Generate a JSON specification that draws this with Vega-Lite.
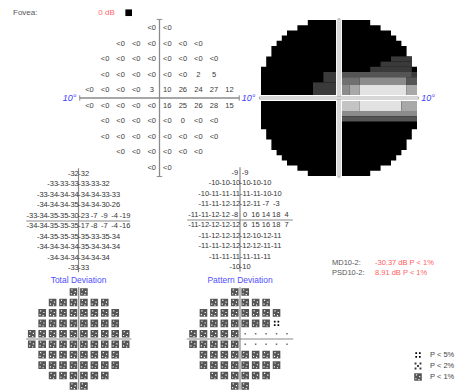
{
 "$schema": "https://vega.github.io/schema/vega-lite/v6.json",
 "padding": 0,
 "background": "white",
 "spacing": 0,
 "columns": 3,
 "align": "none",
 "bounds": "flush",
 "config": {
  "view": {"stroke": null},
  "axis": {"disable": true},
  "legend": {"disable": true},
  "concat": {"spacing": 0},
  "text": {"font": "Liberation Sans", "fontSize": 8, "color": "#3a3a3a"}
 },
 "datasets": {
  "field": [
   {"x":-1,"y":9,"sens":"<0","td":-32,"pd":-9,"tdp":"P < 1%","pdp":"P < 1%"},
   {"x":1,"y":9,"sens":"<0","td":-32,"pd":-9,"tdp":"P < 1%","pdp":"P < 1%"},
   {"x":-5,"y":7,"sens":"<0","td":-33,"pd":-10,"tdp":"P < 1%","pdp":"P < 1%"},
   {"x":-3,"y":7,"sens":"<0","td":-33,"pd":-10,"tdp":"P < 1%","pdp":"P < 1%"},
   {"x":-1,"y":7,"sens":"<0","td":-33,"pd":-10,"tdp":"P < 1%","pdp":"P < 1%"},
   {"x":1,"y":7,"sens":"<0","td":-33,"pd":-10,"tdp":"P < 1%","pdp":"P < 1%"},
   {"x":3,"y":7,"sens":"<0","td":-33,"pd":-10,"tdp":"P < 1%","pdp":"P < 1%"},
   {"x":5,"y":7,"sens":"<0","td":-32,"pd":-10,"tdp":"P < 1%","pdp":"P < 1%"},
   {"x":-7,"y":5,"sens":"<0","td":-33,"pd":-10,"tdp":"P < 1%","pdp":"P < 1%"},
   {"x":-5,"y":5,"sens":"<0","td":-34,"pd":-11,"tdp":"P < 1%","pdp":"P < 1%"},
   {"x":-3,"y":5,"sens":"<0","td":-34,"pd":-11,"tdp":"P < 1%","pdp":"P < 1%"},
   {"x":-1,"y":5,"sens":"<0","td":-34,"pd":-11,"tdp":"P < 1%","pdp":"P < 1%"},
   {"x":1,"y":5,"sens":"<0","td":-34,"pd":-11,"tdp":"P < 1%","pdp":"P < 1%"},
   {"x":3,"y":5,"sens":"<0","td":-34,"pd":-11,"tdp":"P < 1%","pdp":"P < 1%"},
   {"x":5,"y":5,"sens":"<0","td":-33,"pd":-10,"tdp":"P < 1%","pdp":"P < 1%"},
   {"x":7,"y":5,"sens":"<0","td":-33,"pd":-10,"tdp":"P < 1%","pdp":"P < 1%"},
   {"x":-7,"y":3,"sens":"<0","td":-34,"pd":-11,"tdp":"P < 1%","pdp":"P < 1%"},
   {"x":-5,"y":3,"sens":"<0","td":-34,"pd":-11,"tdp":"P < 1%","pdp":"P < 1%"},
   {"x":-3,"y":3,"sens":"<0","td":-34,"pd":-12,"tdp":"P < 1%","pdp":"P < 1%"},
   {"x":-1,"y":3,"sens":"<0","td":-35,"pd":-12,"tdp":"P < 1%","pdp":"P < 1%"},
   {"x":1,"y":3,"sens":"<0","td":-34,"pd":-12,"tdp":"P < 1%","pdp":"P < 1%"},
   {"x":3,"y":3,"sens":"<0","td":-34,"pd":-11,"tdp":"P < 1%","pdp":"P < 1%"},
   {"x":5,"y":3,"sens":"2","td":-30,"pd":-7,"tdp":"P < 1%","pdp":"P < 1%"},
   {"x":7,"y":3,"sens":"5","td":-26,"pd":-3,"tdp":"P < 1%","pdp":"P < 5%"},
   {"x":-9,"y":1,"sens":"<0","td":-33,"pd":-11,"tdp":"P < 1%","pdp":"P < 1%"},
   {"x":-7,"y":1,"sens":"<0","td":-34,"pd":-11,"tdp":"P < 1%","pdp":"P < 1%"},
   {"x":-5,"y":1,"sens":"<0","td":-35,"pd":-12,"tdp":"P < 1%","pdp":"P < 1%"},
   {"x":-3,"y":1,"sens":"<0","td":-35,"pd":-12,"tdp":"P < 1%","pdp":"P < 1%"},
   {"x":-1,"y":1,"sens":"3","td":-30,"pd":-8,"tdp":"P < 1%","pdp":"P < 1%"},
   {"x":1,"y":1,"sens":"10","td":-23,"pd":0,"tdp":"P < 1%","pdp":"n"},
   {"x":3,"y":1,"sens":"26","td":-7,"pd":16,"tdp":"P < 1%","pdp":"n"},
   {"x":5,"y":1,"sens":"24","td":-9,"pd":14,"tdp":"P < 1%","pdp":"n"},
   {"x":7,"y":1,"sens":"27","td":-4,"pd":18,"tdp":"P < 1%","pdp":"n"},
   {"x":9,"y":1,"sens":"12","td":-19,"pd":4,"tdp":"P < 1%","pdp":"n"},
   {"x":-9,"y":-1,"sens":"<0","td":-34,"pd":-11,"tdp":"P < 1%","pdp":"P < 1%"},
   {"x":-7,"y":-1,"sens":"<0","td":-34,"pd":-12,"tdp":"P < 1%","pdp":"P < 1%"},
   {"x":-5,"y":-1,"sens":"<0","td":-35,"pd":-12,"tdp":"P < 1%","pdp":"P < 1%"},
   {"x":-3,"y":-1,"sens":"<0","td":-35,"pd":-12,"tdp":"P < 1%","pdp":"P < 1%"},
   {"x":-1,"y":-1,"sens":"<0","td":-35,"pd":-12,"tdp":"P < 1%","pdp":"P < 1%"},
   {"x":1,"y":-1,"sens":"16","td":-17,"pd":6,"tdp":"P < 1%","pdp":"n"},
   {"x":3,"y":-1,"sens":"25","td":-8,"pd":15,"tdp":"P < 1%","pdp":"n"},
   {"x":5,"y":-1,"sens":"26","td":-7,"pd":16,"tdp":"P < 1%","pdp":"n"},
   {"x":7,"y":-1,"sens":"28","td":-4,"pd":18,"tdp":"P < 1%","pdp":"n"},
   {"x":9,"y":-1,"sens":"15","td":-16,"pd":7,"tdp":"P < 1%","pdp":"n"},
   {"x":-7,"y":-3,"sens":"<0","td":-34,"pd":-11,"tdp":"P < 1%","pdp":"P < 1%"},
   {"x":-5,"y":-3,"sens":"<0","td":-35,"pd":-12,"tdp":"P < 1%","pdp":"P < 1%"},
   {"x":-3,"y":-3,"sens":"<0","td":-35,"pd":-12,"tdp":"P < 1%","pdp":"P < 1%"},
   {"x":-1,"y":-3,"sens":"<0","td":-35,"pd":-12,"tdp":"P < 1%","pdp":"P < 1%"},
   {"x":1,"y":-3,"sens":"<0","td":-35,"pd":-12,"tdp":"P < 1%","pdp":"P < 1%"},
   {"x":3,"y":-3,"sens":"0","td":-33,"pd":-10,"tdp":"P < 1%","pdp":"P < 1%"},
   {"x":5,"y":-3,"sens":"<0","td":-35,"pd":-12,"tdp":"P < 1%","pdp":"P < 1%"},
   {"x":7,"y":-3,"sens":"<0","td":-34,"pd":-11,"tdp":"P < 1%","pdp":"P < 1%"},
   {"x":-7,"y":-5,"sens":"<0","td":-34,"pd":-11,"tdp":"P < 1%","pdp":"P < 1%"},
   {"x":-5,"y":-5,"sens":"<0","td":-34,"pd":-11,"tdp":"P < 1%","pdp":"P < 1%"},
   {"x":-3,"y":-5,"sens":"<0","td":-34,"pd":-12,"tdp":"P < 1%","pdp":"P < 1%"},
   {"x":-1,"y":-5,"sens":"<0","td":-34,"pd":-12,"tdp":"P < 1%","pdp":"P < 1%"},
   {"x":1,"y":-5,"sens":"<0","td":-35,"pd":-12,"tdp":"P < 1%","pdp":"P < 1%"},
   {"x":3,"y":-5,"sens":"<0","td":-34,"pd":-12,"tdp":"P < 1%","pdp":"P < 1%"},
   {"x":5,"y":-5,"sens":"<0","td":-34,"pd":-11,"tdp":"P < 1%","pdp":"P < 1%"},
   {"x":7,"y":-5,"sens":"<0","td":-34,"pd":-11,"tdp":"P < 1%","pdp":"P < 1%"},
   {"x":-5,"y":-7,"sens":"<0","td":-34,"pd":-11,"tdp":"P < 1%","pdp":"P < 1%"},
   {"x":-3,"y":-7,"sens":"<0","td":-34,"pd":-11,"tdp":"P < 1%","pdp":"P < 1%"},
   {"x":-1,"y":-7,"sens":"<0","td":-34,"pd":-11,"tdp":"P < 1%","pdp":"P < 1%"},
   {"x":1,"y":-7,"sens":"<0","td":-34,"pd":-11,"tdp":"P < 1%","pdp":"P < 1%"},
   {"x":3,"y":-7,"sens":"<0","td":-34,"pd":-11,"tdp":"P < 1%","pdp":"P < 1%"},
   {"x":5,"y":-7,"sens":"<0","td":-34,"pd":-11,"tdp":"P < 1%","pdp":"P < 1%"},
   {"x":-1,"y":-9,"sens":"<0","td":-33,"pd":-10,"tdp":"P < 1%","pdp":"P < 1%"},
   {"x":1,"y":-9,"sens":"<0","td":-33,"pd":-10,"tdp":"P < 1%","pdp":"P < 1%"}
  ],
  "gray": [
   {"x":-4,"x2":4,"y":-10,"y2":10,"level":"<1"},
   {"x":-5.333,"x2":5.333,"y":-9.333,"y2":9.333,"level":"<1"},
   {"x":-6.667,"x2":6.667,"y":-8.667,"y2":8.667,"level":"<1"},
   {"x":-7.333,"x2":7.333,"y":-8,"y2":8,"level":"<1"},
   {"x":-8,"x2":8,"y":-7.333,"y2":7.333,"level":"<1"},
   {"x":-8.667,"x2":8.667,"y":-6.667,"y2":6.667,"level":"<1"},
   {"x":-9.333,"x2":9.333,"y":-5.333,"y2":5.333,"level":"<1"},
   {"x":-10,"x2":10,"y":-4,"y2":4,"level":"<1"},
   {"x":-3.333,"x2":0,"y":0,"y2":2,"level":"1-5"},
   {"x":-2,"x2":0,"y":2,"y2":3.333,"level":"1-5"},
   {"x":4,"x2":9.333,"y":3.333,"y2":4,"level":"1-5"},
   {"x":5.333,"x2":9.333,"y":4,"y2":4.667,"level":"1-5"},
   {"x":6.667,"x2":9.333,"y":4.667,"y2":5.333,"level":"1-5"},
   {"x":0,"x2":9.333,"y":2.667,"y2":3.333,"level":"6-10"},
   {"x":9.333,"x2":10,"y":2.667,"y2":3.333,"level":"1-5"},
   {"x":0,"x2":2.667,"y":1.667,"y2":2.667,"level":"11-15"},
   {"x":2.667,"x2":8.667,"y":1.667,"y2":2.667,"level":"16-20"},
   {"x":8.667,"x2":10,"y":1.667,"y2":2.667,"level":"6-10"},
   {"x":0,"x2":1.333,"y":0,"y2":1.667,"level":"16-20"},
   {"x":1.333,"x2":2.667,"y":0,"y2":1.667,"level":"21-25"},
   {"x":2.667,"x2":8.667,"y":0,"y2":1.667,"level":"31+"},
   {"x":8.667,"x2":10,"y":0,"y2":1.667,"level":"21-25"},
   {"x":0,"x2":2.667,"y":-1.667,"y2":0,"level":"26-30"},
   {"x":2.667,"x2":8,"y":-1.667,"y2":0,"level":"31+"},
   {"x":8,"x2":10,"y":-1.667,"y2":0,"level":"21-25"},
   {"x":0,"x2":10,"y":-2.333,"y2":-1.667,"level":"16-20"},
   {"x":0,"x2":10,"y":-3,"y2":-2.333,"level":"6-10"}
  ],
  "stats": [
   {"stat":"MD10-2:","value":"-30.37 dB P < 1%"},
   {"stat":"PSD10-2:","value":"8.91 dB P < 1%"}
  ],
  "legend": [
   {"p":"P < 5%"},
   {"p":"P < 2%"},
   {"p":"P < 1%"}
  ]
 },
 "concat": [
   {"width": 160, "height": 165, "layer": [
    {"data":{"values":[{}]},"mark":{"type":"rule","color":"#8a8a8a","strokeWidth":1.3},
     "encoding":{"x":{"datum":-10.25,"type":"quantitative","scale":{"domain":[-20.501,0.0643],"nice":false,"zero":false},"axis":null},"x2":{"datum":10.25},
      "y":{"datum":0,"type":"quantitative","scale":{"domain":[-8.612,12.596],"nice":false,"zero":false},"axis":null}}},
    {"data":{"values":[{}]},"mark":{"type":"rule","color":"#8a8a8a","strokeWidth":1.3},
     "encoding":{"x":{"datum":0,"type":"quantitative"},"y":{"datum":-10.1,"type":"quantitative"},"y2":{"datum":10.1}}},
    {"data":{"values":[{}]},"mark":{"type":"rule","color":"#8a8a8a","strokeWidth":1},
     "encoding":{"x":{"datum":-10.25,"type":"quantitative"},"y":{"datum":-0.35,"type":"quantitative"},"y2":{"datum":0.35}}},
    {"data":{"values":[{}]},"mark":{"type":"rule","color":"#8a8a8a","strokeWidth":1},
     "encoding":{"x":{"datum":10.25,"type":"quantitative"},"y":{"datum":-0.35,"type":"quantitative"},"y2":{"datum":0.35}}},
    {"data":{"values":[{}]},"mark":{"type":"rule","color":"#8a8a8a","strokeWidth":1},
     "encoding":{"y":{"datum":10.1,"type":"quantitative"},"x":{"datum":-0.35,"type":"quantitative"},"x2":{"datum":0.35}}},
    {"data":{"values":[{}]},"mark":{"type":"rule","color":"#8a8a8a","strokeWidth":1},
     "encoding":{"y":{"datum":-10.1,"type":"quantitative"},"x":{"datum":-0.35,"type":"quantitative"},"x2":{"datum":0.35}}},
    {"data":{"name":"field"},"mark":{"type":"text","fontSize":7.5},
     "encoding":{"x":{"field":"x","type":"quantitative"},"y":{"field":"y","type":"quantitative"},"text":{"field":"sens","type":"nominal"}}},
    {"data":{"values":[{}]},"mark":{"type":"text","fontSize":9,"fontStyle":"italic","color":"#4040ff"},
     "encoding":{"x":{"datum":-11.57,"type":"quantitative"},"y":{"datum":0.05,"type":"quantitative"},"text":{"value":"10°"}}},
    {"data":{"values":[{}]},"mark":{"type":"text","align":"left","fontSize":8,"color":"#555555"},
     "encoding":{"x":{"datum":-18.83,"type":"quantitative"},"y":{"datum":10.96,"type":"quantitative"},"text":{"value":"Fovea:"}}},
    {"data":{"values":[{}]},"mark":{"type":"text","fontSize":8,"color":"#ff6a6a"},
     "encoding":{"x":{"datum":-6.81,"type":"quantitative"},"y":{"datum":10.96,"type":"quantitative"},"text":{"value":"0 dB"}}},
    {"data":{"values":[{}]},"mark":{"type":"point","shape":"square","filled":true,"color":"black","opacity":1,"size":44},
     "encoding":{"x":{"datum":-3.96,"type":"quantitative"},"y":{"datum":10.96,"type":"quantitative"}}}
   ]},
   {"width": 160, "height": 165, "layer": [
    {"data":{"name":"gray"},"mark":{"type":"rect"},
     "encoding":{"x":{"field":"x","type":"quantitative","scale":{"domain":[-22.949,-2.436],"nice":false,"zero":false},"axis":null},"x2":{"field":"x2"},
      "y":{"field":"y","type":"quantitative","scale":{"domain":[-8.59,12.564],"nice":false,"zero":false},"axis":null},"y2":{"field":"y2"},
      "color":{"field":"level","type":"nominal","legend":null,"scale":{"domain":["<1","1-5","6-10","11-15","16-20","21-25","26-30","31+"],"range":["#000000","#3a3a3a","#555555","#707070","#8c8c8c","#a8a8a8","#c4c4c4","#e2e2e2"]}}}},
    {"data":{"values":[{}]},"mark":{"type":"rect","color":"white"},
     "encoding":{"x":{"datum":-0.38,"type":"quantitative"},"x2":{"datum":0.38},"y":{"datum":-10.15,"type":"quantitative"},"y2":{"datum":10.15}}},
    {"data":{"values":[{}]},"mark":{"type":"rect","color":"white"},
     "encoding":{"x":{"datum":-10.2,"type":"quantitative"},"x2":{"datum":10.2},"y":{"datum":-0.38,"type":"quantitative"},"y2":{"datum":0.38}}},
    {"data":{"values":[{}]},"mark":{"type":"rect","fill":"white","stroke":"#999999","strokeWidth":0.8},
     "encoding":{"x":{"datum":-0.13,"type":"quantitative"},"x2":{"datum":0.13},"y":{"datum":-10.15,"type":"quantitative"},"y2":{"datum":10.15}}},
    {"data":{"values":[{}]},"mark":{"type":"rect","fill":"white","stroke":"#999999","strokeWidth":0.8},
     "encoding":{"x":{"datum":-10.2,"type":"quantitative"},"x2":{"datum":10.2},"y":{"datum":-0.13,"type":"quantitative"},"y2":{"datum":0.13}}},
    {"data":{"values":[{}]},"mark":{"type":"text","fontSize":9,"fontStyle":"italic","color":"#4040ff"},
     "encoding":{"x":{"datum":-11.6,"type":"quantitative"},"y":{"datum":0.05,"type":"quantitative"},"text":{"value":"10°"}}},
    {"data":{"values":[{}]},"mark":{"type":"text","fontSize":9,"fontStyle":"italic","color":"#4040ff"},
     "encoding":{"x":{"datum":11.41,"type":"quantitative"},"y":{"datum":0.05,"type":"quantitative"},"text":{"value":"10°"}}}
   ]},
   {"width": 136, "height": 165, "data": {"values": [{}]}, "mark": {"type": "text"}, "encoding": {"text": {"value": ""}}},
   {"width": 160, "height": 122, "layer": [
    {"data":{"values":[{}]},"mark":{"type":"rule","color":"#8a8a8a","strokeWidth":1.2},
     "encoding":{"x":{"datum":-10.1,"type":"quantitative","scale":{"domain":[-15.184,15.764],"nice":false,"zero":false},"axis":null},"x2":{"datum":10},
      "y":{"datum":0,"type":"quantitative","scale":{"domain":[-12.644,10.728],"nice":false,"zero":false},"axis":null}}},
    {"data":{"values":[{}]},"mark":{"type":"rule","color":"#8a8a8a","strokeWidth":1.2},
     "encoding":{"x":{"datum":0,"type":"quantitative"},"y":{"datum":-9.8,"type":"quantitative"},"y2":{"datum":10.1}}},
    {"data":{"name":"field"},"mark":{"type":"text","fontSize":7.5,"color":"#333333"},
     "encoding":{"x":{"field":"x","type":"quantitative"},"y":{"field":"y","type":"quantitative"},"text":{"field":"td","type":"nominal"}}},
    {"data":{"values":[{}]},"mark":{"type":"text","fontSize":8.5,"color":"#4f4fff"},
     "encoding":{"x":{"datum":0,"type":"quantitative"},"y":{"datum":-11.3,"type":"quantitative"},"text":{"value":"Total Deviation"}}}
   ]},
   {"width": 160, "height": 122, "layer": [
    {"data":{"values":[{}]},"mark":{"type":"rule","color":"#8a8a8a","strokeWidth":1.2},
     "encoding":{"x":{"datum":-10.2,"type":"quantitative","scale":{"domain":[-15.444,15.444],"nice":false,"zero":false},"axis":null},"x2":{"datum":10.2},
      "y":{"datum":0,"type":"quantitative","scale":{"domain":[-12.835,10.536],"nice":false,"zero":false},"axis":null}}},
    {"data":{"values":[{}]},"mark":{"type":"rule","color":"#8a8a8a","strokeWidth":1.2},
     "encoding":{"x":{"datum":0,"type":"quantitative"},"y":{"datum":-9.9,"type":"quantitative"},"y2":{"datum":10.1}}},
    {"data":{"name":"field"},"mark":{"type":"text","fontSize":7.5,"color":"#333333"},
     "encoding":{"x":{"field":"x","type":"quantitative"},"y":{"field":"y","type":"quantitative"},"text":{"field":"pd","type":"nominal"}}},
    {"data":{"values":[{}]},"mark":{"type":"text","fontSize":8.5,"color":"#4f4fff"},
     "encoding":{"x":{"datum":0,"type":"quantitative"},"y":{"datum":-11.49,"type":"quantitative"},"text":{"value":"Pattern Deviation"}}}
   ]},
   {"width": 136, "height": 122, "data": {"name": "stats"}, "layer": [
    {"mark":{"type":"text","align":"left","fontSize":7.5,"color":"#555555"},
     "encoding":{"x":{"datum":"label","type":"nominal","scale":{"type":"point","domain":["label","value"],"range":[12,55],"padding":0},"axis":null},
      "y":{"field":"stat","type":"nominal","scale":{"type":"point","domain":["MD10-2:","PSD10-2:"],"range":[98,108],"padding":0},"axis":null},
      "text":{"field":"stat","type":"nominal"}}},
    {"mark":{"type":"text","align":"left","fontSize":7.5,"color":"#ff6060"},
     "encoding":{"x":{"datum":"value","type":"nominal"},"y":{"field":"stat","type":"nominal"},"text":{"field":"value","type":"nominal"}}}
   ]},
   {"width": 160, "height": 103, "layer": [
    {"data":{"values":[{}]},"mark":{"type":"rule","color":"#8a8a8a","strokeWidth":1.2},
     "encoding":{"x":{"datum":-10.1,"type":"quantitative","scale":{"domain":[-15.077,15.575],"nice":false,"zero":false},"axis":null},"x2":{"datum":10.1},
      "y":{"datum":0,"type":"quantitative","scale":{"domain":[-9.77,9.962],"nice":false,"zero":false},"axis":null}}},
    {"data":{"values":[{}]},"mark":{"type":"rule","color":"#8a8a8a","strokeWidth":1.2},
     "encoding":{"x":{"datum":0,"type":"quantitative"},"y":{"datum":-9.7,"type":"quantitative"},"y2":{"datum":9.9}}},
    {"data":{"name":"field"},"mark":{"type":"point","filled":true,"opacity":1,"size":58},
     "encoding":{"x":{"field":"x","type":"quantitative"},"y":{"field":"y","type":"quantitative"},
      "shape":{"field":"tdp","type":"nominal","legend":null,"scale":{"domain":["P < 5%","P < 2%","P < 1%","n"],"range":["M-0.7,-0.7h0.45v0.45h-0.45z M0.25,-0.7h0.45v0.45h-0.45z M-0.7,0.25h0.45v0.45h-0.45z M0.25,0.25h0.45v0.45h-0.45z","M-0.9,-0.9h0.5v0.5h-0.5z M0.4,-0.9h0.5v0.5h-0.5z M-0.25,-0.25h0.5v0.5h-0.5z M-0.9,0.4h0.5v0.5h-0.5z M0.4,0.4h0.5v0.5h-0.5z","M-1,-1H1V1H-1Z M-0.55,-0.7V-0.4H-0.25V-0.7Z M0.3,-0.25V0.05H0.6V-0.25Z M-0.7,0.3V0.6H-0.4V0.3Z M0.1,0.55V0.85H0.4V0.55Z","M-0.2,-0.2h0.4v0.4h-0.4z"]}},
      "color":{"field":"tdp","type":"nominal","legend":null,"scale":{"domain":["P < 5%","P < 2%","P < 1%","n"],"range":["#555555","#444444","#1e1e1e","#888888"]}}}}
   ]},
   {"width": 160, "height": 103, "layer": [
    {"data":{"values":[{}]},"mark":{"type":"rule","color":"#8a8a8a","strokeWidth":1.2},
     "encoding":{"x":{"datum":-10.2,"type":"quantitative","scale":{"domain":[-15.326,15.326],"nice":false,"zero":false},"axis":null},"x2":{"datum":10.2},
      "y":{"datum":0,"type":"quantitative","scale":{"domain":[-9.77,9.962],"nice":false,"zero":false},"axis":null}}},
    {"data":{"values":[{}]},"mark":{"type":"rule","color":"#8a8a8a","strokeWidth":1.2},
     "encoding":{"x":{"datum":0,"type":"quantitative"},"y":{"datum":-9.7,"type":"quantitative"},"y2":{"datum":9.9}}},
    {"data":{"name":"field"},"mark":{"type":"point","filled":true,"opacity":1,"size":58},
     "encoding":{"x":{"field":"x","type":"quantitative"},"y":{"field":"y","type":"quantitative"},
      "shape":{"field":"pdp","type":"nominal","legend":null,"scale":{"domain":["P < 5%","P < 2%","P < 1%","n"],"range":["M-0.7,-0.7h0.45v0.45h-0.45z M0.25,-0.7h0.45v0.45h-0.45z M-0.7,0.25h0.45v0.45h-0.45z M0.25,0.25h0.45v0.45h-0.45z","M-0.9,-0.9h0.5v0.5h-0.5z M0.4,-0.9h0.5v0.5h-0.5z M-0.25,-0.25h0.5v0.5h-0.5z M-0.9,0.4h0.5v0.5h-0.5z M0.4,0.4h0.5v0.5h-0.5z","M-1,-1H1V1H-1Z M-0.55,-0.7V-0.4H-0.25V-0.7Z M0.3,-0.25V0.05H0.6V-0.25Z M-0.7,0.3V0.6H-0.4V0.3Z M0.1,0.55V0.85H0.4V0.55Z","M-0.2,-0.2h0.4v0.4h-0.4z"]}},
      "color":{"field":"pdp","type":"nominal","legend":null,"scale":{"domain":["P < 5%","P < 2%","P < 1%","n"],"range":["#555555","#444444","#1e1e1e","#888888"]}}}}
   ]},
   {"width": 136, "height": 103, "data": {"name": "legend"}, "layer": [
    {"mark":{"type":"point","filled":true,"opacity":1,"size":58},
     "encoding":{"x":{"datum":"sym","type":"nominal","scale":{"type":"point","domain":["sym","txt"],"range":[98,110],"padding":0},"axis":null},
      "y":{"field":"p","type":"nominal","scale":{"type":"point","domain":["P < 5%","P < 2%","P < 1%"],"range":[68,90],"padding":0},"axis":null},
      "shape":{"field":"p","type":"nominal","legend":null,"scale":{"domain":["P < 5%","P < 2%","P < 1%","n"],"range":["M-0.7,-0.7h0.45v0.45h-0.45z M0.25,-0.7h0.45v0.45h-0.45z M-0.7,0.25h0.45v0.45h-0.45z M0.25,0.25h0.45v0.45h-0.45z","M-0.9,-0.9h0.5v0.5h-0.5z M0.4,-0.9h0.5v0.5h-0.5z M-0.25,-0.25h0.5v0.5h-0.5z M-0.9,0.4h0.5v0.5h-0.5z M0.4,0.4h0.5v0.5h-0.5z","M-1,-1H1V1H-1Z M-0.55,-0.7V-0.4H-0.25V-0.7Z M0.3,-0.25V0.05H0.6V-0.25Z M-0.7,0.3V0.6H-0.4V0.3Z M0.1,0.55V0.85H0.4V0.55Z","M-0.2,-0.2h0.4v0.4h-0.4z"]}},
      "color":{"field":"p","type":"nominal","legend":null,"scale":{"domain":["P < 5%","P < 2%","P < 1%","n"],"range":["#555555","#444444","#1e1e1e","#888888"]}}}},
    {"mark":{"type":"text","align":"left","fontSize":7.5,"color":"#444444"},
     "encoding":{"x":{"datum":"txt","type":"nominal"},"y":{"field":"p","type":"nominal"},"text":{"field":"p","type":"nominal"}}}
   ]}
 ]
}
